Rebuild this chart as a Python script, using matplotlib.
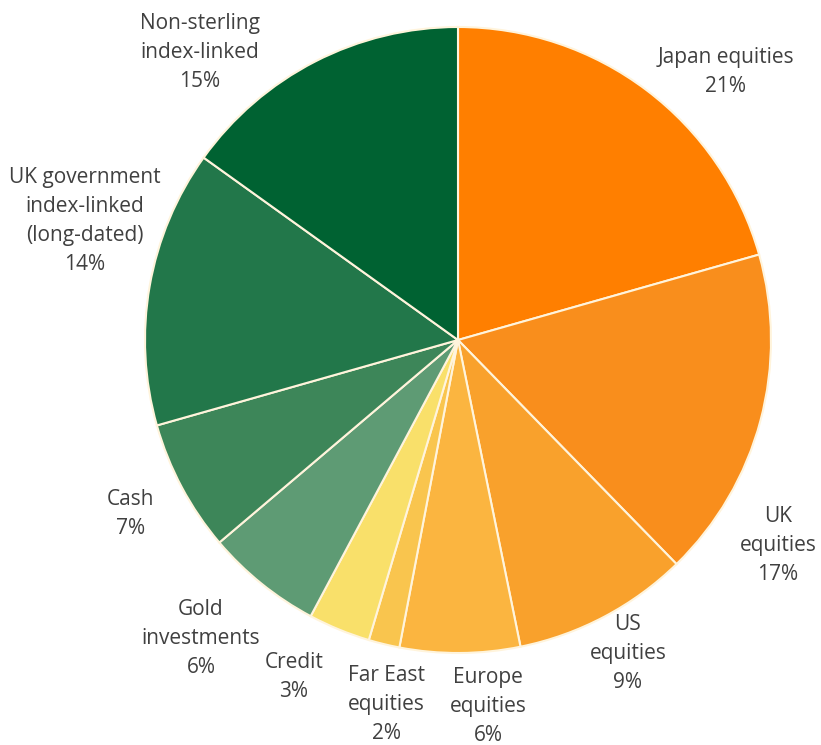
import matplotlib
matplotlib.use("Agg")
import matplotlib.pyplot as plt
import numpy as np

# asset allocation (clockwise from top)
categories = ["Japan equities", "UK\nequities", "US\nequities", "Europe\nequities",
              "Far East\nequities", "Credit", "Gold\ninvestments", "Cash",
              "UK government\nindex-linked\n(long-dated)", "Non-sterling\nindex-linked"]
values = [20.6, 17.1, 9.1, 6.2, 1.6, 3.2, 6.0, 6.8, 14.3, 15.1]
colors = ["#FF7F00", "#F98E1C", "#F9A12C", "#FBB540", "#F9C54E",
          "#F9E06A", "#5E9B74", "#3D8659", "#22774A", "#006232"]

# label anchor points in radius units
label_pos = [(0.856, 0.856), (1.022, -0.658), (0.543, -1.0), (0.096, -1.172),
             (-0.23, -1.165), (-0.524, -1.077), (-0.821, -0.955), (-1.045, -0.556),
             (-1.192, 0.380), (-0.824, 0.917)]

plt.rcParams['font.family'] = ['Open Sans', 'DejaVu Sans']

fig = plt.figure(figsize=(8.21, 7.45), dpi=100)
ax = fig.add_axes([0, 0, 1, 1])
ax.pie(values, colors=colors, startangle=90, counterclock=False, radius=1,
       wedgeprops=dict(edgecolor="#FFF4DC", linewidth=1.5))

for cat, v, (x, y) in zip(categories, values, label_pos):
    ax.text(x, y, "%s\n%d%%" % (cat, round(v)), ha="center", va="center",
            fontsize=15, color="#404040", linespacing=1.5)

ax.set_xlim(-458 / 313, 363 / 313)
ax.set_ylim(-405 / 313, 340 / 313)
ax.set_aspect("auto")
ax.axis("off")

fig.savefig("out.png", dpi=100, facecolor="white")
